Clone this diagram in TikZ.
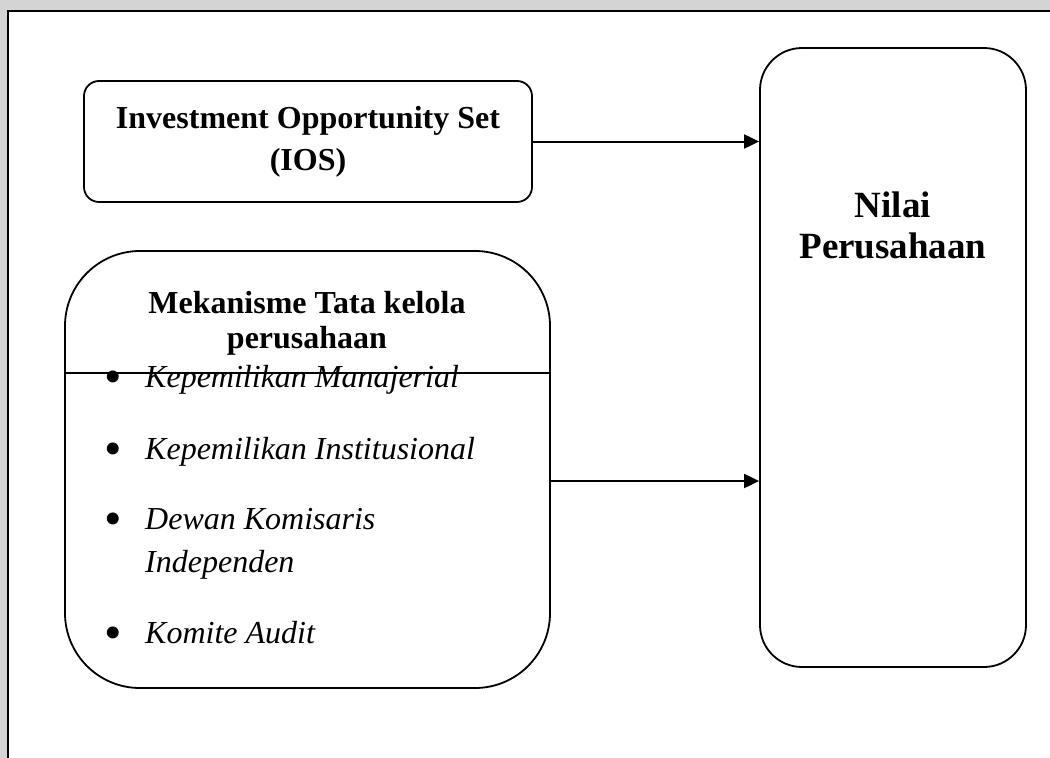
\documentclass[tikz,border=0pt]{standalone}
\usepackage{fontspec}
\setmainfont{Liberation Serif}
\usetikzlibrary{positioning, arrows.meta}

\definecolor{pagegray}{RGB}{212,212,212}

\tikzset{
  box/.style={draw, line width=1.8pt, rounded corners=#1, inner sep=0pt},
  box/.default=15pt,
  arr/.style={line width=2pt, -{Triangle[length=15pt,width=14pt]}},
  title/.style={font=\bfseries\fontsize{32}{35}\selectfont, align=center, inner sep=0pt, anchor=base},
  item/.style={font=\itshape\fontsize{32}{43}\selectfont, align=left, anchor=base west, inner sep=0pt},
  dotmark/.style={font=\fontsize{50}{50}\selectfont, anchor=base, inner sep=0pt, yshift=-6pt},
}

\begin{document}
\begin{tikzpicture}[x=1pt, y=-1pt]
      \useasboundingbox (0,0) rectangle (1050,758);
      \fill[pagegray] (0,0) rectangle (1050,758);
      \fill[white] (8,11) rectangle (1050,758);
      \draw[line width=1.8pt] (8,758) -- (8,11) -- (1050,11);

      \node[box, minimum width=448pt, minimum height=121pt, align=center,
            font=\bfseries\fontsize{32}{42}\selectfont] (IOS) at (308,141.5)
            {Investment Opportunity Set\\(IOS)};

      \node[box=42pt, minimum width=266pt, minimum height=619pt] (NP) at (893,357.5) {};
      \node[title, font=\bfseries\fontsize{37}{41}\selectfont] (NPtext) at (893,258) {Nilai\\Perusahaan};

      \node[box=75pt, minimum width=485pt, minimum height=437pt] (MTK) at (307.5,469.5) {};
      \node[title] (MTKtext) at (307,348) {Mekanisme Tata kelola\\perusahaan};
      \draw[line width=1.8pt] (MTK.west |- 0,373) -- (MTK.east |- 0,373);

      \node[dotmark] (d1) at (113,387) {•};
      \node[dotmark] (d2) at (113,459) {•};
      \node[dotmark] (d3) at (113,529) {•};
      \node[dotmark] (d4) at (113,643) {•};
      \node[item] (MTK1) at (145,387) {Kepemilikan Manajerial};
      \node[item] (MTK2) at (145,459) {Kepemilikan Institusional};
      \node[item] (MTK3) at (145,572) {Dewan Komisaris\\Independen};
      \node[item] (MTK4) at (145,643) {Komite Audit};

      \path ([yshift=-11.5pt]MTK.east) coordinate (MTKout);
      \draw[arr] (IOS.east) -- (IOS.east -| NP.west);
      \draw[arr] (MTKout) -- (MTKout -| NP.west);
    \end{tikzpicture}
\end{document}
